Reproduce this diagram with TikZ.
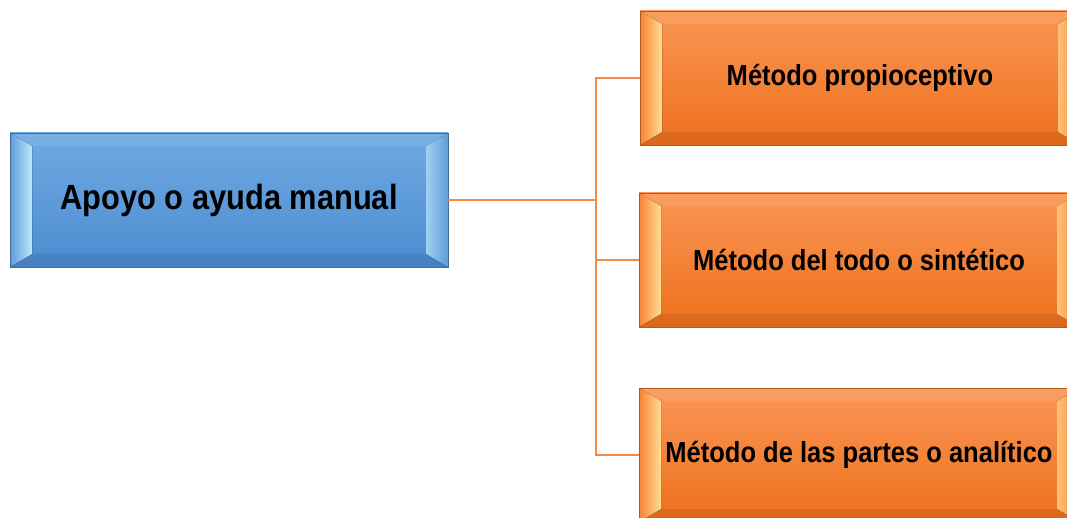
\documentclass[tikz,border=0pt]{standalone}
\usepackage{fontspec}
\newfontfamily\boxfont{Liberation Sans}[FakeStretch=0.88]
\usetikzlibrary{calc}
\definecolor{cus-blue}{RGB}{94,156,218}
\definecolor{cus-blue-top}{RGB}{112,170,228}
\definecolor{cus-blue-bot}{RGB}{76,140,208}
\definecolor{cus-blue-hi}{RGB}{190,232,252}
\definecolor{cus-orange}{RGB}{248,130,50}
\definecolor{cus-orange-top}{RGB}{250,150,85}
\definecolor{cus-orange-bot}{RGB}{238,112,28}
\definecolor{cus-orange-hi}{RGB}{255,222,150}
\definecolor{cus-line}{RGB}{240,140,70}

\begin{document}
\begin{tikzpicture}[x=1pt, y=-1pt,
  bevel/.style 2 args={draw=#1!70!black, line width=0.6pt, inner sep=0pt,
    top color=#1-top, bottom color=#1-bot,
    path picture={
      \path (path picture bounding box.south west) coordinate (sw)
            (path picture bounding box.north east) coordinate (ne);
      \coordinate (isw) at ([shift={(22pt,13pt)}]sw);
      \coordinate (ine) at ([shift={(-22pt,-13pt)}]ne);
      \fill[left color=#1, right color=#2] (sw) -- (sw |- ne) -- (isw |- ine) -- (isw) -- cycle;
      \fill[left color=#2!70!#1, right color=#1] (ne |- sw) -- (ne) -- (ine) -- (ine |- isw) -- cycle;
      \fill[white, opacity=.08] (sw |- ne) -- (ne) -- (ine) -- (isw |- ine) -- cycle;
      \fill[black, opacity=.08] (sw) -- (ne |- sw) -- (ine |- isw) -- (isw) -- cycle;
    }},
  mainbox/.style={bevel={cus-blue}{cus-blue-hi}, minimum width=438pt, minimum height=134pt,
    font=\boxfont\bfseries\fontsize{35}{40}\selectfont},
  methodbox/.style={bevel={cus-orange}{cus-orange-hi}, minimum width=440pt, minimum height=134pt,
    font=\boxfont\bfseries\fontsize{29}{33}\selectfont},
  link/.style={draw=cus-line, line width=2.2pt}]
\useasboundingbox (0,0) rectangle (1067,518);

\node[mainbox] (apoyo) at (229,200) {Apoyo o ayuda manual};
\node[methodbox] (propio) at (860,78) {Método propioceptivo};
\node[methodbox] (todo) at (859,260) {Método del todo o sintético};
\node[methodbox] (partes) at (859,455) {Método de las partes o analítico};

% connectors
\coordinate (split) at (596,200);
\draw[link] (apoyo.east) -- (split);
\draw[link] (split) |- (propio.west);
\draw[link] (split) |- (todo.west);
\draw[link] (split) |- (partes.west);
\end{tikzpicture}
\end{document}
